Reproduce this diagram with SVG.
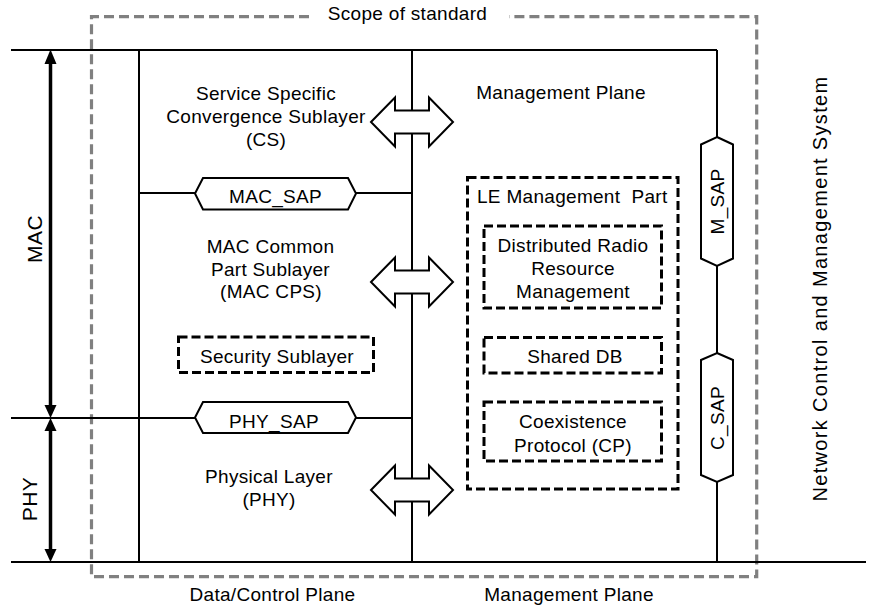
<svg xmlns="http://www.w3.org/2000/svg" width="870" height="610" viewBox="0 0 870 610">
<style>
  text { font-family: "Liberation Sans", Arial, sans-serif; font-size: 19px; fill: #000; letter-spacing: 0.3px; }
  .c { text-anchor: middle; }
  .big { font-size: 21px; letter-spacing: 0.5px; }
  .ln { fill: none; stroke: #000; stroke-width: 2; }
  .thick { fill: none; stroke: #000; stroke-width: 3.5; }
  .head { fill: #000; stroke: none; }
  .sap { fill: #fff; stroke: #000; stroke-width: 2; stroke-linejoin: miter; }
  .dbl { fill: #fff; stroke: #000; stroke-width: 2; stroke-linejoin: miter; }
  .dash { fill: none; stroke: #000; stroke-width: 3; stroke-dasharray: 9 4; }
  .scope { fill: none; stroke: #808080; stroke-width: 3.2; stroke-dasharray: 10 5; }
</style>

<g id="scope">
  <path class="scope" d="M309,16.7 H91.5 V576.7 H756.7 V16.7 H509"/>
  <text class="c" x="407.5" y="19.5">Scope of standard</text>
</g>

<g id="connectors">
  <!-- frame lines -->
  <line class="ln" x1="11" y1="50" x2="717" y2="50"/>
  <line class="ln" x1="11" y1="562" x2="866" y2="562"/>
  <line class="ln" x1="11" y1="418" x2="412" y2="418"/>
  <line class="ln" x1="139" y1="193" x2="412" y2="193"/>
  <line class="ln" x1="139" y1="50" x2="139" y2="562"/>
  <line class="ln" x1="412" y1="50" x2="412" y2="562"/>
  <line class="ln" x1="717" y1="50" x2="717" y2="137"/>
  <line class="ln" x1="717" y1="266" x2="717" y2="353"/>
  <line class="ln" x1="717" y1="482" x2="717" y2="562"/>
  <!-- MAC / PHY extent arrows -->
  <line class="thick" x1="50.5" y1="62" x2="50.5" y2="406"/>
  <polygon class="head" points="50.5,49.5 44.5,64 56.5,64"/>
  <polygon class="head" points="50.5,418 44.5,405 56.5,405"/>
  <line class="thick" x1="50.5" y1="430" x2="50.5" y2="550"/>
  <polygon class="head" points="50.5,418 44.5,431 56.5,431"/>
  <polygon class="head" points="50.5,562 44.5,549 56.5,549"/>
  <!-- double arrows across the plane boundary -->
  <polygon class="dbl" points="371,122 395,97.5 395,110.5 429,110.5 429,97.5 453,122 429,146.5 429,133.5 395,133.5 395,146.5"/>
  <polygon class="dbl" points="371,282 395,257.5 395,270.5 429,270.5 429,257.5 453,282 429,306.5 429,293.5 395,293.5 395,306.5"/>
  <polygon class="dbl" points="371,490 395,465.5 395,478.5 429,478.5 429,465.5 453,490 429,514.5 429,501.5 395,501.5 395,514.5"/>
</g>

<g id="mac-label">
  <text class="c big" transform="translate(41.5,239) rotate(-90)">MAC</text>
</g>
<g id="phy-label">
  <text class="c big" transform="translate(37,499) rotate(-90)">PHY</text>
</g>

<g id="cs">
  <text class="c" x="266" y="100">Service Specific</text>
  <text class="c" x="266" y="123">Convergence Sublayer</text>
  <text class="c" x="266" y="146">(CS)</text>
</g>

<g id="mac-sap">
  <polygon class="sap" points="195,193.5 203,178 348,178 356,193.5 348,209.5 203,209.5"/>
  <text class="c" x="275.5" y="202.5">MAC_SAP</text>
</g>

<g id="mac-cps">
  <text class="c" x="270.5" y="252.5">MAC Common</text>
  <text class="c" x="270.5" y="275.5">Part Sublayer</text>
  <text class="c" x="271" y="298">(MAC CPS)</text>
</g>

<g id="security">
  <rect class="dash" x="178.5" y="337" width="195" height="35.5"/>
  <text class="c" x="277" y="363">Security Sublayer</text>
</g>

<g id="phy-sap">
  <polygon class="sap" points="195,417.5 203,402 348,402 356,417.5 348,433 203,433"/>
  <text class="c" x="274" y="427.5">PHY_SAP</text>
</g>

<g id="phy">
  <text class="c" x="269" y="483">Physical Layer</text>
  <text class="c" x="269" y="506">(PHY)</text>
</g>

<g id="mgmt-plane-top">
  <text class="c" x="561" y="99">Management Plane</text>
</g>

<g id="le-mgmt">
  <rect class="dash" x="467.5" y="177.5" width="210.5" height="311.5"/>
  <text x="477" y="202.5" xml:space="preserve">LE Management  Part</text>
</g>

<g id="drrm">
  <rect class="dash" x="484" y="226" width="177.5" height="82"/>
  <text class="c" x="573" y="251.5">Distributed Radio</text>
  <text class="c" x="573" y="274.5">Resource</text>
  <text class="c" x="573" y="297.5">Management</text>
</g>

<g id="shared-db">
  <rect class="dash" x="484" y="337.5" width="177.5" height="35.5"/>
  <text class="c" x="575" y="363">Shared DB</text>
</g>

<g id="cp">
  <rect class="dash" x="484" y="402" width="177.5" height="59"/>
  <text class="c" x="573" y="428">Coexistence</text>
  <text class="c" x="573" y="451.5">Protocol (CP)</text>
</g>

<g id="m-sap">
  <polygon class="sap" points="717,137 733,144.5 733,258.5 717,266 701,258.5 701,144.5"/>
  <text class="c" transform="translate(724,201.5) rotate(-90)">M_SAP</text>
</g>

<g id="c-sap">
  <polygon class="sap" points="717,353 733,360 733,475 717,482 701,475 701,360"/>
  <text class="c" transform="translate(724,418) rotate(-90)">C_SAP</text>
</g>

<g id="nms">
  <text class="c" transform="translate(826.5,289) rotate(-90)" style="font-size:20px" textLength="425" lengthAdjust="spacing">Network Control and Management System</text>
</g>

<g id="bottom-labels">
  <text class="c" x="272.5" y="601">Data/Control Plane</text>
  <text class="c" x="569" y="601">Management Plane</text>
</g>
</svg>
